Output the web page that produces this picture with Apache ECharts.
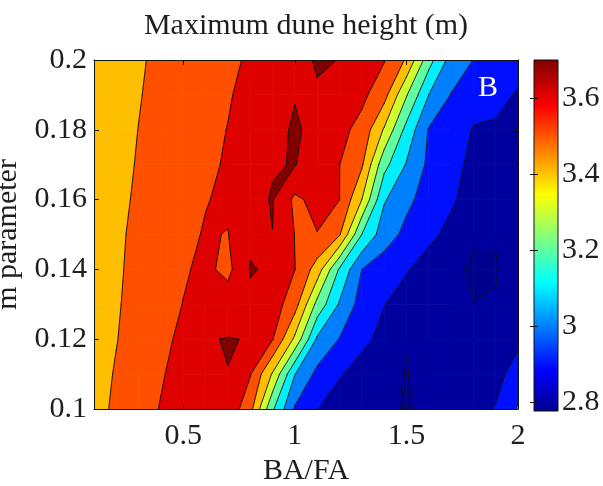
<!DOCTYPE html>
<html><head><meta charset="utf-8">
<script src="https://cdn.jsdelivr.net/npm/echarts@6/dist/echarts.min.js"></script>
<style>html,body{margin:0;padding:0;background:#fff}#c{width:603px;height:486px}</style>
</head><body><div id="c"></div>
<script>
// ---- data ----
const baFa = [0.1,0.2,0.3,0.4,0.5,0.6,0.7,0.8,0.9,1.0,1.1,1.2,1.3,1.4,1.5,1.6,1.7,1.8,1.9,2.0];
const mParam = [0.10,0.11,0.12,0.13,0.14,0.15,0.16,0.17,0.18,0.19,0.20];
const h010 = [3.471,3.515,3.560,3.605,3.650,3.680,3.670,3.533,3.215,2.989,2.902,2.860,2.850,2.814,2.795,2.814,2.840,2.870,2.905,3.010];
const h011 = [3.465,3.507,3.549,3.592,3.634,3.670,3.699,3.606,3.390,3.103,2.974,2.907,2.870,2.830,2.797,2.830,2.840,2.850,2.870,2.940];
const h012 = [3.456,3.497,3.538,3.578,3.619,3.695,3.703,3.697,3.605,3.380,3.085,2.996,2.918,2.880,2.803,2.850,2.840,2.830,2.825,2.880];
const h013 = [3.455,3.492,3.529,3.565,3.602,3.635,3.650,3.694,3.650,3.542,3.270,3.090,2.958,2.902,2.870,2.860,2.840,2.801,2.805,2.840];
const h014 = [3.460,3.490,3.520,3.560,3.590,3.620,3.575,3.702,3.696,3.601,3.456,3.188,3.000,2.952,2.905,2.870,2.821,2.790,2.795,2.837];
const h015 = [3.456,3.487,3.517,3.547,3.577,3.607,3.597,3.694,3.699,3.598,3.597,3.510,3.200,3.045,2.976,2.917,2.880,2.809,2.805,2.840];
const h016 = [3.455,3.483,3.510,3.538,3.566,3.596,3.615,3.677,3.705,3.580,3.630,3.601,3.400,3.110,3.021,2.962,2.910,2.870,2.860,2.850];
const h017 = [3.453,3.479,3.505,3.531,3.557,3.583,3.609,3.645,3.695,3.703,3.660,3.601,3.513,3.232,3.093,2.980,2.926,2.880,2.870,2.860];
const h018 = [3.450,3.475,3.501,3.526,3.552,3.577,3.602,3.640,3.687,3.705,3.689,3.630,3.567,3.390,3.168,2.993,2.950,2.895,2.893,2.880];
const h019 = [3.448,3.472,3.496,3.521,3.545,3.569,3.593,3.625,3.660,3.698,3.694,3.670,3.624,3.536,3.308,3.100,2.996,2.930,2.915,2.895];
const h020 = [3.447,3.470,3.492,3.515,3.538,3.561,3.584,3.610,3.644,3.679,3.706,3.699,3.654,3.606,3.488,3.240,3.060,2.999,2.960,2.920];
const levels = [2.8,2.9,3.0,3.1,3.2,3.3,3.4,3.5,3.6,3.7];
const xTicks = [0.5,1,1.5,2];
const yTicks = [0.1,0.12,0.14,0.16,0.18,0.2];
const cbTicks = [2.8,3,3.2,3.4,3.6];
const cbMin = 2.776, cbMax = 3.7;

// ---- styles ----
const bandColors = ['#00008F','#00009F','#0010FF','#0080FF','#00EFFF','#60FF9F','#CFFF30','#FFBF00','#FF5000','#DF0000','#800000'];
const FONT = "'Liberation Serif','Times New Roman',serif";
const TXT = '#1e1e1e';

const heights = [h010,h011,h012,h013,h014,h015,h016,h017,h018,h019,h020];
const cells = [];
for (let j = 0; j < mParam.length - 1; j++)
  for (let i = 0; i < baFa.length - 1; i++) cells.push([baFa[i], mParam[j], i, j]);

function lerpPt(a, b, va, vb, L) {
  const t = (L - va) / (vb - va);
  return [a[0] + t * (b[0] - a[0]), a[1] + t * (b[1] - a[1])];
}
function fillPoly(pts, band) {
  return {type:'polygon', shape:{points:pts}, z2:band,
    style:{fill:bandColors[band], stroke:bandColors[band], lineWidth:0.7}};
}
function renderCell(params, api) {
  const i = api.value(2), j = api.value(3);
  const corners = [[baFa[i],mParam[j]],[baFa[i+1],mParam[j]],[baFa[i+1],mParam[j+1]],[baFa[i],mParam[j+1]]];
  const vs = [heights[j][i], heights[j][i+1], heights[j+1][i+1], heights[j+1][i]];
  const P = corners.map(c => api.coord(c));
  const children = [];
  const segs = [];
  const vmin = Math.min.apply(null, vs);
  let start = -1;
  levels.forEach((L, k) => { if (vmin >= L) start = k; });
  children.push(fillPoly(P, start + 1));
  for (let k = start + 1; k < levels.length; k++) {
    const L = levels[k];
    const inside = vs.map(v => v >= L);
    if (inside.indexOf(true) < 0) break;
    const pts = [], cross = {};
    for (let m = 0; m < 4; m++) {
      const n = (m + 1) % 4;
      if (inside[m]) pts.push(P[m]);
      if (inside[m] !== inside[n]) { const c = lerpPt(P[m], P[n], vs[m], vs[n], L); cross[m] = c; pts.push(c); }
    }
    children.push(fillPoly(pts, k + 1));
    const keys = Object.keys(cross).map(Number);
    if (keys.length === 2) segs.push([cross[keys[0]], cross[keys[1]]]);
    else if (keys.length === 4) {
      for (let m = 0; m < 4; m++) if (!inside[m]) segs.push([cross[(m + 3) % 4], cross[m]]);
    }
  }
  segs.forEach(s => children.push({type:'line', z2:60,
    shape:{x1:s[0][0], y1:s[0][1], x2:s[1][0], y2:s[1][1]},
    style:{stroke:'#111', lineWidth:0.9, lineCap:'round'}}));
  return {type:'group', children};
}

function renderBar(params, api) {
  const p0 = api.coord([0, cbMax]), p1 = api.coord([1, cbMin]);
  const grad = new echarts.graphic.LinearGradient(0, 0, 0, 1, [
    {offset:0, color:'#800000'},
    {offset:1 - 0.867, color:'#FF0000'},
    {offset:1 - 0.617, color:'#FFFF00'},
    {offset:1 - 0.367, color:'#00FFFF'},
    {offset:1 - 0.117, color:'#0000FF'},
    {offset:1, color:'#00008F'}
  ]);
  return {type:'rect', shape:{x:p0[0], y:p0[1], width:p1[0]-p0[0], height:p1[1]-p0[1]},
    style:{fill:grad, stroke:'#111', lineWidth:1}};
}

const tickStyle = {color:'#111', width:1};
const lbl = {fontFamily:FONT, fontSize:30, color:TXT};
const chart = echarts.init(document.getElementById('c'), null, {renderer:'canvas'});
chart.setOption({
  animation:false,
  backgroundColor:'#fff',
  grid:[{left:94, top:60, width:424, height:349, outerBoundsMode:'none', containLabel:false},
        {left:534, top:60, width:24, height:351, outerBoundsMode:'none', containLabel:false}],
  xAxis:[
    {gridIndex:0, type:'value', min:0.1, max:2, position:'bottom', z:5,
     axisLine:{onZero:false, lineStyle:tickStyle},
     axisTick:{inside:true, length:5, customValues:xTicks, lineStyle:tickStyle},
     axisLabel:Object.assign({customValues:xTicks, margin:12}, lbl),
     splitLine:{show:false},
     name:'BA/FA', nameLocation:'middle', nameGap:41, nameTextStyle:lbl},
    {gridIndex:0, type:'value', min:0.1, max:2, position:'top', z:5,
     axisLine:{onZero:false, lineStyle:tickStyle},
     axisTick:{inside:true, length:5, customValues:xTicks, lineStyle:tickStyle},
     axisLabel:{show:false}, splitLine:{show:false}},
    {gridIndex:1, type:'value', min:0, max:1, show:false}
  ],
  yAxis:[
    {gridIndex:0, type:'value', min:0.1, max:0.2, position:'left', z:5,
     axisLine:{onZero:false, lineStyle:tickStyle},
     axisTick:{inside:true, length:5, customValues:yTicks, lineStyle:tickStyle},
     axisLabel:Object.assign({customValues:yTicks, margin:7}, lbl),
     splitLine:{show:false},
     name:'m parameter', nameLocation:'middle', nameGap:56, nameTextStyle:lbl},
    {gridIndex:0, type:'value', min:0.1, max:0.2, position:'right', z:5,
     axisLine:{onZero:false, lineStyle:tickStyle},
     axisTick:{inside:true, length:5, customValues:yTicks, lineStyle:tickStyle},
     axisLabel:{show:false}, splitLine:{show:false}},
    {gridIndex:1, type:'value', min:cbMin, max:cbMax, position:'right', z:5,
     axisLine:{show:false},
     axisTick:{inside:true, length:4, customValues:cbTicks, lineStyle:tickStyle},
     axisLabel:Object.assign({customValues:cbTicks, margin:4}, lbl),
     splitLine:{show:false}},
    {gridIndex:1, type:'value', min:cbMin, max:cbMax, position:'left', z:5,
     axisLine:{show:false},
     axisTick:{inside:true, length:4, customValues:cbTicks, lineStyle:tickStyle},
     axisLabel:{show:false}, splitLine:{show:false}}
  ],
  graphic:[
    {type:'text', x:306, y:26, z:10, style:{text:'Maximum dune height (m)', font:"30px 'Liberation Serif','Times New Roman',serif", fill:TXT, textAlign:'center', textVerticalAlign:'middle'}},
    {type:'text', x:488, y:88, z:10, style:{text:'B', font:"30px 'Liberation Serif','Times New Roman',serif", fill:'#ffffff', textAlign:'center', textVerticalAlign:'middle'}}
  ],
  series:[
    {type:'custom', xAxisIndex:0, yAxisIndex:0, z:2, clip:true, silent:true,
     dimensions:['x','y','i','j'], encode:{x:0, y:1}, data:cells, renderItem:renderCell},
    {type:'custom', xAxisIndex:2, yAxisIndex:2, z:2, silent:true,
     data:[[0, cbMin]], encode:{x:0, y:1}, renderItem:renderBar}
  ]
});
</script>
</body></html>
